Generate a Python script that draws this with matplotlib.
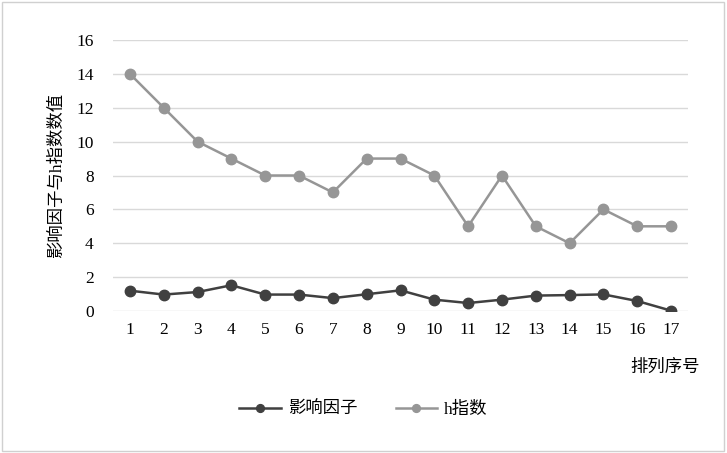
import matplotlib
matplotlib.use("Agg")
import matplotlib.pyplot as plt
from matplotlib.patches import Rectangle

plt.rcParams["font.family"] = ["Liberation Serif", "Noto Sans CJK SC"]

order = list(range(1, 18))
impact = [1.2, 0.97, 1.12, 1.52, 0.97, 0.97, 0.76, 0.99, 1.22,
          0.67, 0.47, 0.67, 0.91, 0.94, 0.98, 0.59, 0.02]
h_index = [14, 12, 10, 9, 8, 8, 7, 9, 9, 8, 5, 8, 5, 4, 6, 5, 5]

fig = plt.figure(figsize=(7.27, 4.53), dpi=100)
ax = fig.add_axes([113 / 727, 1 - 311 / 453, 575 / 727, 271 / 453])

ax.plot(order, impact, "-o", color="#404040", lw=1.8, ms=7.5, label="影响因子", zorder=3)
ax.plot(order, h_index, "-o", color="#969696", lw=1.8, ms=7.5, label="h指数", zorder=3)

ax.set_xlim(0.5, 17.5)
ax.set_ylim(0, 16)
ax.set_yticks(range(0, 17, 2))
ax.set_xticks(order)
ax.grid(axis="y", color="#d9d9d9", lw=1)
ax.set_axisbelow(True)
for s in ax.spines.values():
    s.set_visible(False)
ax.tick_params(length=0, labelsize=12.5, colors="#000000")
ax.tick_params(axis="y", pad=14)
ax.tick_params(axis="x", pad=8)

ax.set_ylabel("影响因子与h指数数值", fontsize=12.5, labelpad=8)
fig.text(665 / 727, 1 - 368 / 453, "排列序号", ha="center", va="center", fontsize=12.5)

fig.legend(loc="center", bbox_to_anchor=(0.5, 1 - 410 / 453), ncol=2, frameon=False,
           fontsize=12.5, handlelength=2.4, handletextpad=0.4, columnspacing=2.2,
           markerscale=0.75)

fig.patches.append(Rectangle((0.003, 0.004), 0.993, 0.991, transform=fig.transFigure,
                             fill=False, edgecolor="#d0d0d0", lw=1))

fig.savefig("out.png", dpi=100)
